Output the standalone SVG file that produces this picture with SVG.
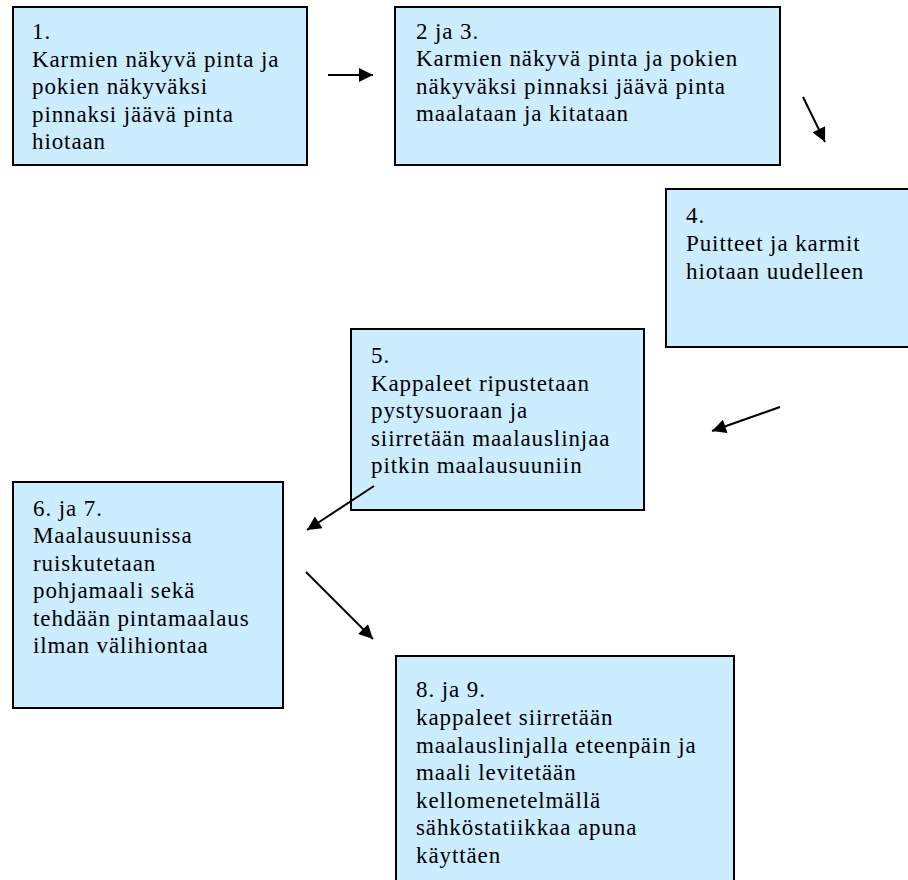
<svg xmlns="http://www.w3.org/2000/svg" width="908" height="880" viewBox="0 0 908 880">
<style>
.box{fill:#CCECFF;stroke:#000;stroke-width:2}
.t{font-family:"Liberation Serif","Times New Roman",serif;font-size:23px;letter-spacing:0.9px;fill:#000}
.c{stroke:#000;stroke-width:2;fill:none;marker-end:url(#ah)}
</style>
<defs>
<marker id="ah" viewBox="0 0 10 10" refX="10" refY="5" markerWidth="7.5" markerHeight="7" markerUnits="strokeWidth" orient="auto">
<path d="M0,0 L10,5 L0,10 z" fill="#000"/>
</marker>
</defs>
<rect width="908" height="880" fill="#fff"/>
<g id="node1">
<rect class="box" x="13" y="7" width="294" height="158"/>
<text class="t"><tspan x="32" y="39">1.</tspan><tspan x="32" y="67">Karmien näkyvä pinta ja</tspan><tspan x="32" y="94">pokien näkyväksi</tspan><tspan x="32" y="121.5">pinnaksi jäävä pinta</tspan><tspan x="32" y="149">hiotaan</tspan></text>
</g>
<g id="node2">
<rect class="box" x="395" y="7" width="385" height="158"/>
<text class="t"><tspan x="416" y="38.5">2 ja 3.</tspan><tspan x="416" y="66">Karmien näkyvä pinta ja pokien</tspan><tspan x="416" y="93.5">näkyväksi pinnaksi jäävä pinta</tspan><tspan x="416" y="121">maalataan ja kitataan</tspan></text>
</g>
<g id="node4">
<rect class="box" x="666" y="189" width="260" height="158"/>
<text class="t"><tspan x="686" y="222.5">4.</tspan><tspan x="686" y="251">Puitteet ja karmit</tspan><tspan x="686" y="279">hiotaan uudelleen</tspan></text>
</g>
<g id="node5">
<rect class="box" x="351" y="329" width="293" height="181"/>
<text class="t"><tspan x="371" y="363">5.</tspan><tspan x="371" y="391">Kappaleet ripustetaan</tspan><tspan x="371" y="418">pystysuoraan ja</tspan><tspan x="371" y="446">siirretään maalauslinjaa</tspan><tspan x="371" y="473">pitkin maalausuuniin</tspan></text>
</g>
<g id="node6">
<rect class="box" x="13" y="482" width="270" height="226"/>
<text class="t"><tspan x="33" y="516">6. ja 7.</tspan><tspan x="33" y="543">Maalausuunissa</tspan><tspan x="33" y="571">ruiskutetaan</tspan><tspan x="33" y="598">pohjamaali sekä</tspan><tspan x="33" y="626">tehdään pintamaalaus</tspan><tspan x="33" y="653">ilman välihiontaa</tspan></text>
</g>
<g id="node8">
<rect class="box" x="396" y="656" width="338" height="240"/>
<text class="t"><tspan x="416" y="697">8. ja 9.</tspan><tspan x="416" y="725">kappaleet siirretään</tspan><tspan x="416" y="752.5">maalauslinjalla eteenpäin ja</tspan><tspan x="416" y="780">maali levitetään</tspan><tspan x="416" y="808">kellomenetelmällä</tspan><tspan x="416" y="835">sähköstatiikkaa apuna</tspan><tspan x="416" y="862.5">käyttäen</tspan></text>
</g>
<g id="connectors">
<line class="c" x1="328" y1="75" x2="373" y2="75"/>
<line class="c" x1="803" y1="97" x2="825" y2="142"/>
<line class="c" x1="780" y1="407" x2="712" y2="431"/>
<line class="c" x1="374" y1="486" x2="307" y2="530"/>
<line class="c" x1="306" y1="572" x2="373" y2="639"/>
</g>
</svg>
